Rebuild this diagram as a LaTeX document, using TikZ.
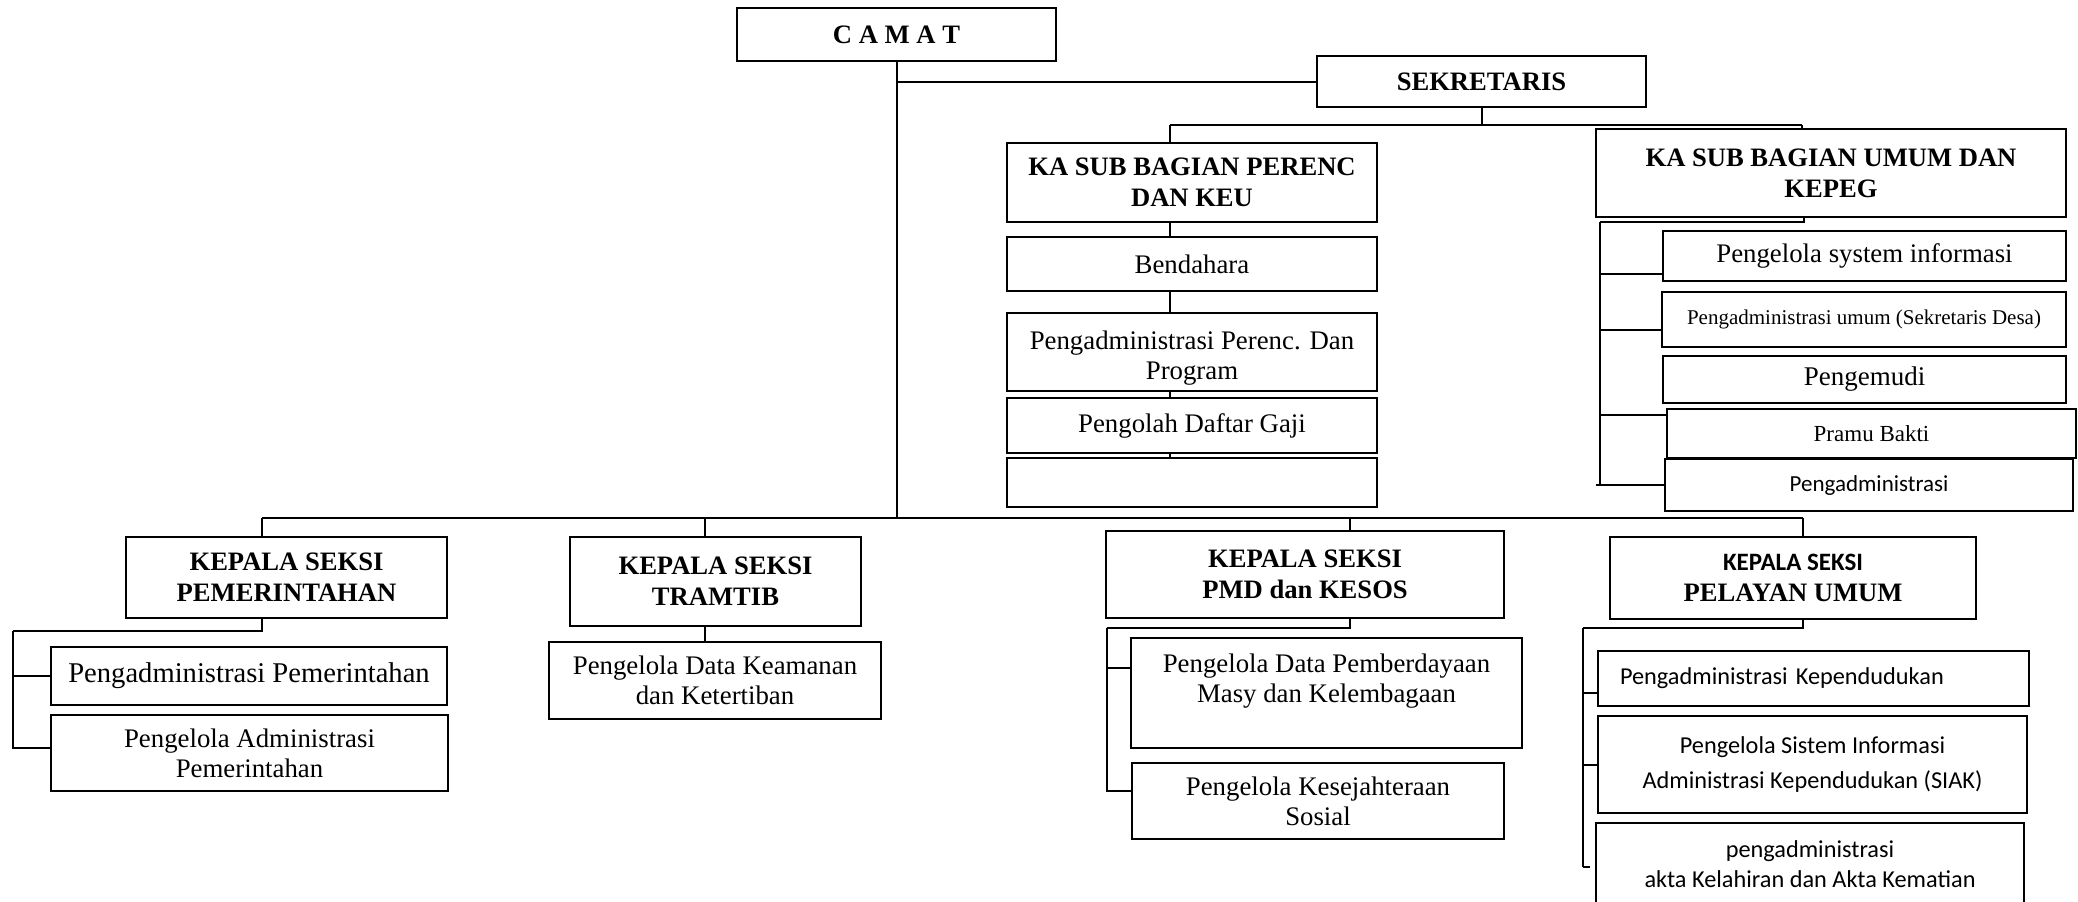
\documentclass[tikz,border=0pt]{standalone}
\usepackage{fontspec}
\setmainfont{Liberation Serif}
\newfontfamily\calfont{Carlito}
\pgfdeclarelayer{edgelayer}
\pgfdeclarelayer{nodelayer}
\pgfsetlayers{edgelayer,nodelayer,main}
\tikzstyle{unit_box}=[draw=black,fill=white,line width=2.4pt,inner sep=0pt,align=center]
\tikzstyle{head_box}=[unit_box,font=\bfseries\fontsize{26.6}{31}\selectfont]
\tikzstyle{staff_box}=[unit_box,font=\fontsize{26.8}{30}\selectfont]
\tikzstyle{staff_box_sans}=[unit_box,font=\calfont\fontsize{24.3}{33}\selectfont]
\tikzstyle{bagan_line}=[draw=black,line width=2pt]

\begin{document}
\begin{tikzpicture}[x=1pt,y=-1pt]
	\useasboundingbox (0,0) rectangle (2078,902);
	\begin{pgfonlayer}{nodelayer}
		\node [style={head_box}, minimum width=319pt, minimum height=53pt] (1) at (896.5, 34.5) {C A M A T};
		\node [style={head_box}, minimum width=329pt, minimum height=51pt] (2) at (1481.5, 81.5) {SEKRETARIS};
		\node [style={head_box}, minimum width=370pt, minimum height=79pt] (3) at (1192, 182.5) {KA SUB BAGIAN PERENC\\DAN KEU};
		\node [style={staff_box}, minimum width=370pt, minimum height=54pt] (4) at (1192, 264) {Bendahara};
		\node [style={staff_box}, minimum width=370pt, minimum height=78pt] (5) at (1192, 352) {\rule{0pt}{31pt}Pengadministrasi Perenc. Dan\\Program};
		\node [style={staff_box}, minimum width=370pt, minimum height=55pt] (6) at (1192, 425.5) {Pengolah Daftar Gaji};
		\node [style={staff_box}, minimum width=370pt, minimum height=49pt] (7) at (1192, 482.5) {};
		\node [style={head_box}, minimum width=470pt, minimum height=88pt] (8) at (1831, 173) {KA SUB BAGIAN UMUM DAN\\KEPEG};
		\node [style={staff_box}, minimum width=403pt, minimum height=50pt] (9) at (1864.5, 256) {Pengelola system informasi};
		\node [style={staff_box}, minimum width=404pt, minimum height=55pt, font=\fontsize{21}{25}\selectfont] (10) at (1864, 319.5) {Pengadministrasi umum (Sekretaris Desa)};
		\node [style={staff_box}, minimum width=403pt, minimum height=47pt, font=\fontsize{27}{31}\selectfont] (11) at (1864.5, 379.5) {Pengemudi};
		\node [style={staff_box}, minimum width=409pt, minimum height=49pt, font=\fontsize{23}{27}\selectfont] (12) at (1871.5, 433.5) {Pramu Bakti};
		\node [style={staff_box_sans}, minimum width=408pt, minimum height=52pt, font=\calfont\fontsize{23}{27}\selectfont] (13) at (1869, 485) {Pengadministrasi};
		\node [style={head_box}, minimum width=321pt, minimum height=81pt] (14) at (286.5, 577.5) {KEPALA SEKSI\\PEMERINTAHAN};
		\node [style={staff_box}, minimum width=396pt, minimum height=58pt, font=\fontsize{28.6}{32}\selectfont] (15) at (249, 676) {Pengadministrasi Pemerintahan};
		\node [style={staff_box}, minimum width=397pt, minimum height=76pt] (16) at (249.5, 753) {Pengelola Administrasi\\Pemerintahan};
		\node [style={head_box}, minimum width=291pt, minimum height=89pt] (17) at (715.5, 581.5) {KEPALA SEKSI\\TRAMTIB};
		\node [style={staff_box}, minimum width=332pt, minimum height=77pt] (18) at (715, 680.5) {Pengelola Data Keamanan\\dan Ketertiban};
		\node [style={head_box}, minimum width=398pt, minimum height=87pt] (19) at (1305, 574.5) {KEPALA SEKSI\\PMD dan KESOS};
		\node [style={staff_box}, minimum width=391pt, minimum height=110pt] (20) at (1326.5, 693) {Pengelola Data Pemberdayaan\\Masy dan Kelembagaan\\\mbox{}};
		\node [style={staff_box}, minimum width=372pt, minimum height=76pt] (21) at (1318, 801) {Pengelola Kesejahteraan\\Sosial};
		\node [style={head_box}, minimum width=366pt, minimum height=82pt] (22) at (1793, 578) {{\calfont\fontsize{25}{30}\selectfont KEPALA SEKSI}\\PELAYAN UMUM};
		\node [style={staff_box_sans}, text width=387pt, inner xsep=22pt, align=left, minimum height=55pt] (23) at (1813.5, 678.5) {Pengadministrasi Kependudukan};
		\node [style={staff_box_sans}, minimum width=429pt, minimum height=97pt, font=\calfont\fontsize{24.3}{35}\selectfont] (24) at (1812.5, 764.5) {Pengelola Sistem Informasi\\Administrasi Kependudukan (SIAK)};
		\node [style={staff_box_sans}, minimum width=428pt, minimum height=82pt, font=\calfont\fontsize{24.3}{30}\selectfont] (25) at (1810, 864) {pengadministrasi\\akta Kelahiran dan Akta Kematian};
	\end{pgfonlayer}
	\begin{pgfonlayer}{edgelayer}
		\coordinate (bl) at (262, 518);
		\coordinate (br) at (1803, 518);
		\coordinate (sl) at (1170, 125);
		\coordinate (sr) at (1802, 125);
		\coordinate (ua) at (1600, 222);
		\coordinate (pa) at (13, 631);
		\coordinate (da) at (1107, 628);
		\coordinate (la) at (1583, 628);
		\coordinate (lb) at (1583, 867);
		\draw [style=bagan_line] (1.south) to (1.south |- bl);
		\draw [style=bagan_line] (1.south |- 2.west) to (2.west);
		\draw [style=bagan_line] (2.south) to (2.south |- sl);
		\draw [style=bagan_line] (sl) to (sr);
		\draw [style=bagan_line] (sl) to (sl |- 3.north);
		\draw [style=bagan_line] (sr) to (sr |- 8.north);
		\draw [style=bagan_line] (sl |- 3.south) to (sl |- 4.north);
		\draw [style=bagan_line] (sl |- 4.south) to (sl |- 5.north);
		\draw [style=bagan_line] (sl |- 5.south) to (sl |- 6.north);
		\draw [style=bagan_line] (sl |- 6.south) to (sl |- 7.north);
		\draw [style=bagan_line] ([xshift=-27pt]8.south) |- (ua);
		\draw [style=bagan_line] (ua) |- ([yshift=8pt]9.south west);
		\draw [style=bagan_line] (ua) |- ([yshift=18pt]10.south west);
		\draw [style=bagan_line] (ua) |- ([yshift=-7pt]12.north west);
		\draw [style=bagan_line] (ua) |- (13.west);
		\draw [style=bagan_line] (ua |- 13.west) -- ++(-4, 0);
		\draw [style=bagan_line] (bl) to (br);
		\draw [style=bagan_line] (bl) to (bl |- 14.north);
		\draw [style=bagan_line] ([xshift=-10.5pt]17.north) -- ++(0, -19);
		\draw [style=bagan_line] ([xshift=45pt]19.north) -- ++(0, -13);
		\draw [style=bagan_line] (br) to (br |- 22.north);
		\draw [style=bagan_line] ([xshift=-24.5pt]14.south) |- (pa);
		\draw [style=bagan_line] (pa) |- (15.west);
		\draw [style=bagan_line] (pa) |- ([yshift=5pt]16.west);
		\draw [style=bagan_line] ([xshift=-10.5pt]17.south) -- ++(0, 16);
		\draw [style=bagan_line] ([xshift=45pt]19.south) |- (da);
		\draw [style=bagan_line] (da) |- ([yshift=-31pt]20.north west);
		\draw [style=bagan_line] (da) |- ([yshift=10pt]21.west);
		\draw [style=bagan_line] ([xshift=10pt]22.south) |- (la);
		\draw [style=bagan_line] (la) |- ([yshift=14pt]23.south west);
		\draw [style=bagan_line] (la) |- (24.west);
		\draw [style=bagan_line] (la) to (lb);
		\draw [style=bagan_line] (lb) -- ++(7, 0);
	\end{pgfonlayer}
\end{tikzpicture}
\end{document}
